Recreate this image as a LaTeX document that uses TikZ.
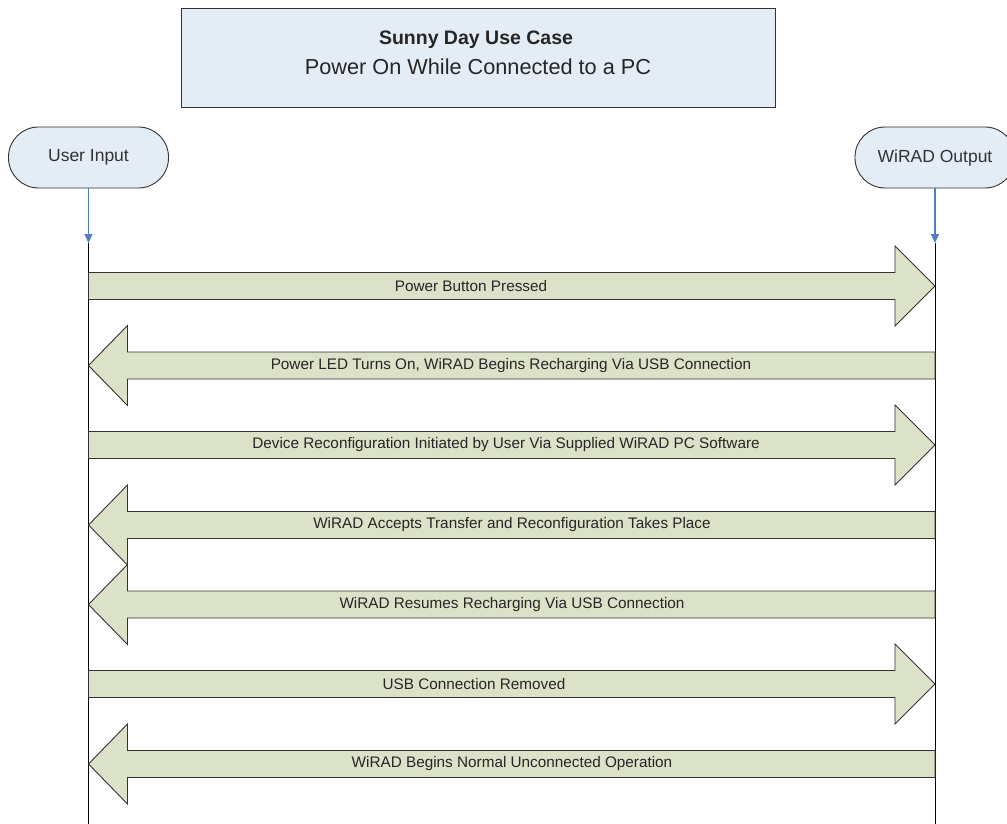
\documentclass[tikz,border=0pt]{standalone}
\usepackage{fontspec}
\setmainfont{Liberation Sans}
\usetikzlibrary{calc,arrows.meta}

\definecolor{boxblue}{HTML}{E4ECF6}
\definecolor{msgfill}{HTML}{DCE2C8}
\definecolor{edge}{HTML}{333333}
\definecolor{linkblue}{HTML}{4F7FBF}

\tikzset{
  titlebox/.style={draw=edge, line width=0.9pt, fill=boxblue},
  actor/.style={draw=edge, line width=0.9pt, fill=boxblue, rounded corners=30pt,
    minimum width=160pt, minimum height=61pt, inner sep=0pt,
    font=\fontsize{17.5}{20}\selectfont, text=black!80},
  lifeline/.style={draw=black, line width=0.9pt},
  feed/.style={draw=linkblue, line width=1.2pt, -{Triangle[length=9pt,width=8pt]}},
  msg/.style={draw=edge, line width=0.9pt, fill=msgfill, line join=miter},
  lbl/.style={font=\fontsize{15.3}{17}\selectfont, text=black!85, inner sep=0pt}
}

% message arrow pointing to the right: #1 start, #2 end, #3 label, #4 label x
\newcommand{\msgtoright}[4]{%
  \draw[msg] ($(#1)+(0,-13.5)$) -- ($(#2)+(-40,-13.5)$) -- ($(#2)+(-40,-40)$)
    -- (#2) -- ($(#2)+(-40,40)$) -- ($(#2)+(-40,13.5)$) -- ($(#1)+(0,13.5)$) -- cycle;
  \node[lbl] at ($(#1)+(#4-88.5,0)$) {#3};}
% message arrow pointing to the left: #1 start (right), #2 end (left)
\newcommand{\msgtoleft}[4]{%
  \draw[msg] ($(#1)+(0,-13.5)$) -- ($(#2)+(39,-13.5)$) -- ($(#2)+(39,-40)$)
    -- (#2) -- ($(#2)+(39,40)$) -- ($(#2)+(39,13.5)$) -- ($(#1)+(0,13.5)$) -- cycle;
  \node[lbl] at ($(#2)+(#4-88.5,0)$) {#3};}

\begin{document}
\begin{tikzpicture}[x=1pt,y=-1pt]
  \useasboundingbox (0,0) rectangle (1007,824);
  \fill[white] (0,0) rectangle (1007,824);

  % heading
  \draw[titlebox] (181,8) rectangle (775,107);
  \node[font=\fontsize{19.5}{24}\selectfont\bfseries, text=black!85, inner sep=0pt] (title) at (476,40) {Sunny Day Use Case};
  \node[font=\fontsize{21.7}{24}\selectfont, text=black!85, inner sep=0pt] (subtitle) at (478,67) {Power On While Connected to a PC};

  % actors
  \node[actor] (user) at (88.5,157.5) {User Input};
  \node[actor] (wirad) at (935,157.5) {WiRAD Output};

  \coordinate (usertop) at (88.5,243);
  \coordinate (wiradtop) at (935,243);
  \coordinate (userend) at (88.5,824);
  \coordinate (wiradend) at (935,824);

  \draw[feed] (user.south) -- (usertop);
  \draw[feed] (wirad.south) -- (wiradtop);

  % lifelines
  \draw[lifeline] (usertop) -- (userend);
  \draw[lifeline] (wiradtop) -- (wiradend);

  % message anchors on the lifelines
  \foreach \i/\y in {1/286,2/365.5,3/445,4/525,5/604.5,6/684,7/764}{
    \coordinate (u\i) at (88.5,\y);
    \coordinate (w\i) at (935,\y);
  }

  \msgtoright{u1}{w1}{Power Button Pressed}{471}
  \msgtoleft{w2}{u2}{Power LED Turns On, WiRAD Begins Recharging Via USB Connection}{511}
  \msgtoright{u3}{w3}{Device Reconfiguration Initiated by User Via Supplied WiRAD PC Software}{506}
  \msgtoleft{w4}{u4}{WiRAD Accepts Transfer and Reconfiguration Takes Place}{512}
  \msgtoleft{w5}{u5}{WiRAD Resumes Recharging Via USB Connection}{512}
  \msgtoright{u6}{w6}{USB Connection Removed}{474}
  \msgtoleft{w7}{u7}{WiRAD Begins Normal Unconnected Operation}{512}
\end{tikzpicture}
\end{document}
